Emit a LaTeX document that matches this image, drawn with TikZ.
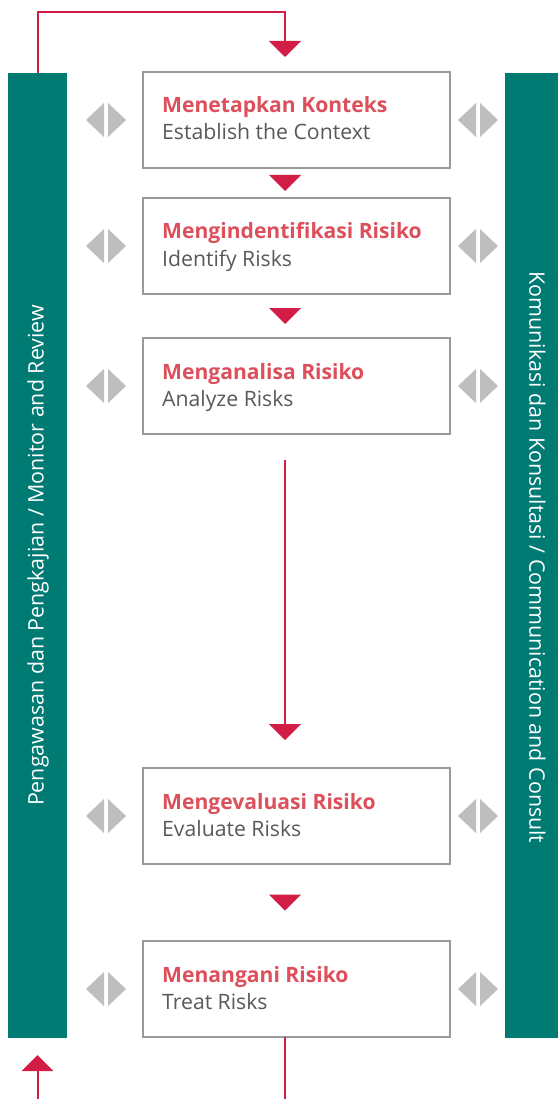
\documentclass[tikz,border=0pt]{standalone}
\usepackage{fontspec}
\setmainfont{Open Sans}
\usetikzlibrary{arrows.meta,calc}

\definecolor{bandteal}{HTML}{007B74}
\definecolor{flowred}{HTML}{D21E46}
\definecolor{titlered}{HTML}{DC4F5B}
\definecolor{bodygray}{HTML}{58595B}
\definecolor{eargray}{HTML}{BCBEC0}
\definecolor{framegray}{HTML}{9A9A9A}

\tikzset{
  band/.style={fill=bandteal, draw=none, minimum width=59pt, minimum height=965pt, inner sep=0pt},
  bandtext/.style={text=white, font=\fontsize{21.4}{24}\selectfont, inner sep=0pt},
  stepbox/.style={draw=framegray, line width=1.3pt, fill=white, minimum width=307pt, minimum height=96pt, inner sep=0pt, outer sep=0pt},
  title/.style={anchor=base west, inner sep=0pt, text=titlered, font=\fontsize{21.1}{24}\selectfont\bfseries},
  body/.style={anchor=base west, inner sep=0pt, text=bodygray, font=\fontsize{21.2}{24}\selectfont},
  redline/.style={draw=flowred, line width=2pt},
  flow/.style={redline, -{Triangle[width=32pt,length=16pt]}},
  pics/ears/.style={code={
    \fill[eargray] (-2,-17) -- (-20,0) -- (-2,17) -- cycle;
    \fill[eargray] (2,-17) -- (20,0) -- (2,17) -- cycle;
  }}
}

\newcommand\gaptri[2]{%
  \fill[flowred] ($(#1.south)!.5!(#2.north)+(-27.5,-8)$) -- ++(32,0) -- ++(-16,16) -- cycle;}

\begin{document}
\begin{tikzpicture}[x=1pt,y=-1pt]
\useasboundingbox (0,0) rectangle (557,1099);
\fill[white] (0,0) rectangle (557,1099);

% side bands
\node[band] (lband) at (37.5,555.5) {};
\node[band] (rband) at (534.5,555.5) {};
\node[bandtext, rotate=90] (ltext) at ($(lband.center)+(0.5,0)$) {Pengawasan dan Pengkajian / Monitor and Review};
\node[bandtext, rotate=-90] (rtext) at ($(rband.center)+(3,2)$) {Komunikasi dan Konsultasi / Communication and Consult};

% process steps
\node[stepbox] (b1) at (296.5,120) {};
\node[stepbox] (b2) at (296.5,246) {};
\node[stepbox] (b3) at (296.5,386) {};
\node[stepbox] (b4) at (296.5,816) {};
\node[stepbox] (b5) at (296.5,989) {};

\node[title] (t1) at ($(b1.north west)+(19,41)$) {Menetapkan Konteks};
\node[body]  (s1) at ($(b1.north west)+(19,68)$) {Establish the Context};
\node[title] (t2) at ($(b2.north west)+(19,41)$) {Mengindentifikasi Risiko};
\node[body]  (s2) at ($(b2.north west)+(19,68)$) {Identify Risks};
\node[title] (t3) at ($(b3.north west)+(19,41)$) {Menganalisa Risiko};
\node[body]  (s3) at ($(b3.north west)+(19,68)$) {Analyze Risks};
\node[title] (t4) at ($(b4.north west)+(19,41)$) {Mengevaluasi Risiko};
\node[body]  (s4) at ($(b4.north west)+(19,68)$) {Evaluate Risks};
\node[title] (t5) at ($(b5.north west)+(19,41)$) {Menangani Risiko};
\node[body]  (s5) at ($(b5.north west)+(19,68)$) {Treat Risks};

% two-way markers beside each step
\foreach \b in {b1,b2,b3,b4,b5}{
  \pic at ($(\b.west)+(-37,0)$) {ears};
  \pic at ($(\b.east)+(28,0)$) {ears};
}

% flow between steps
\gaptri{b1}{b2}
\gaptri{b2}{b3}
\gaptri{b4}{b5}
\draw[flow] ($(b3.south)+(-11.5,26)$) -- ($(b4.north)+(-11.5,-28)$);

% feedback loop from the monitoring band into the first step
\draw[flow] (lband.north) |- ($(b1.north)+(-11.5,-60)$) -- ($(b1.north)+(-11.5,-15)$);

% loose ends at the bottom
\coordinate (outB) at ($(b5.south)+(-11.5,62)$);
\coordinate (inL) at (lband.south |- outB);
\draw[redline] ($(b5.south)+(-11.5,0)$) -- (outB);
\draw[flow] (inL) -- ($(lband.south)+(0,17)$);
\end{tikzpicture}
\end{document}
